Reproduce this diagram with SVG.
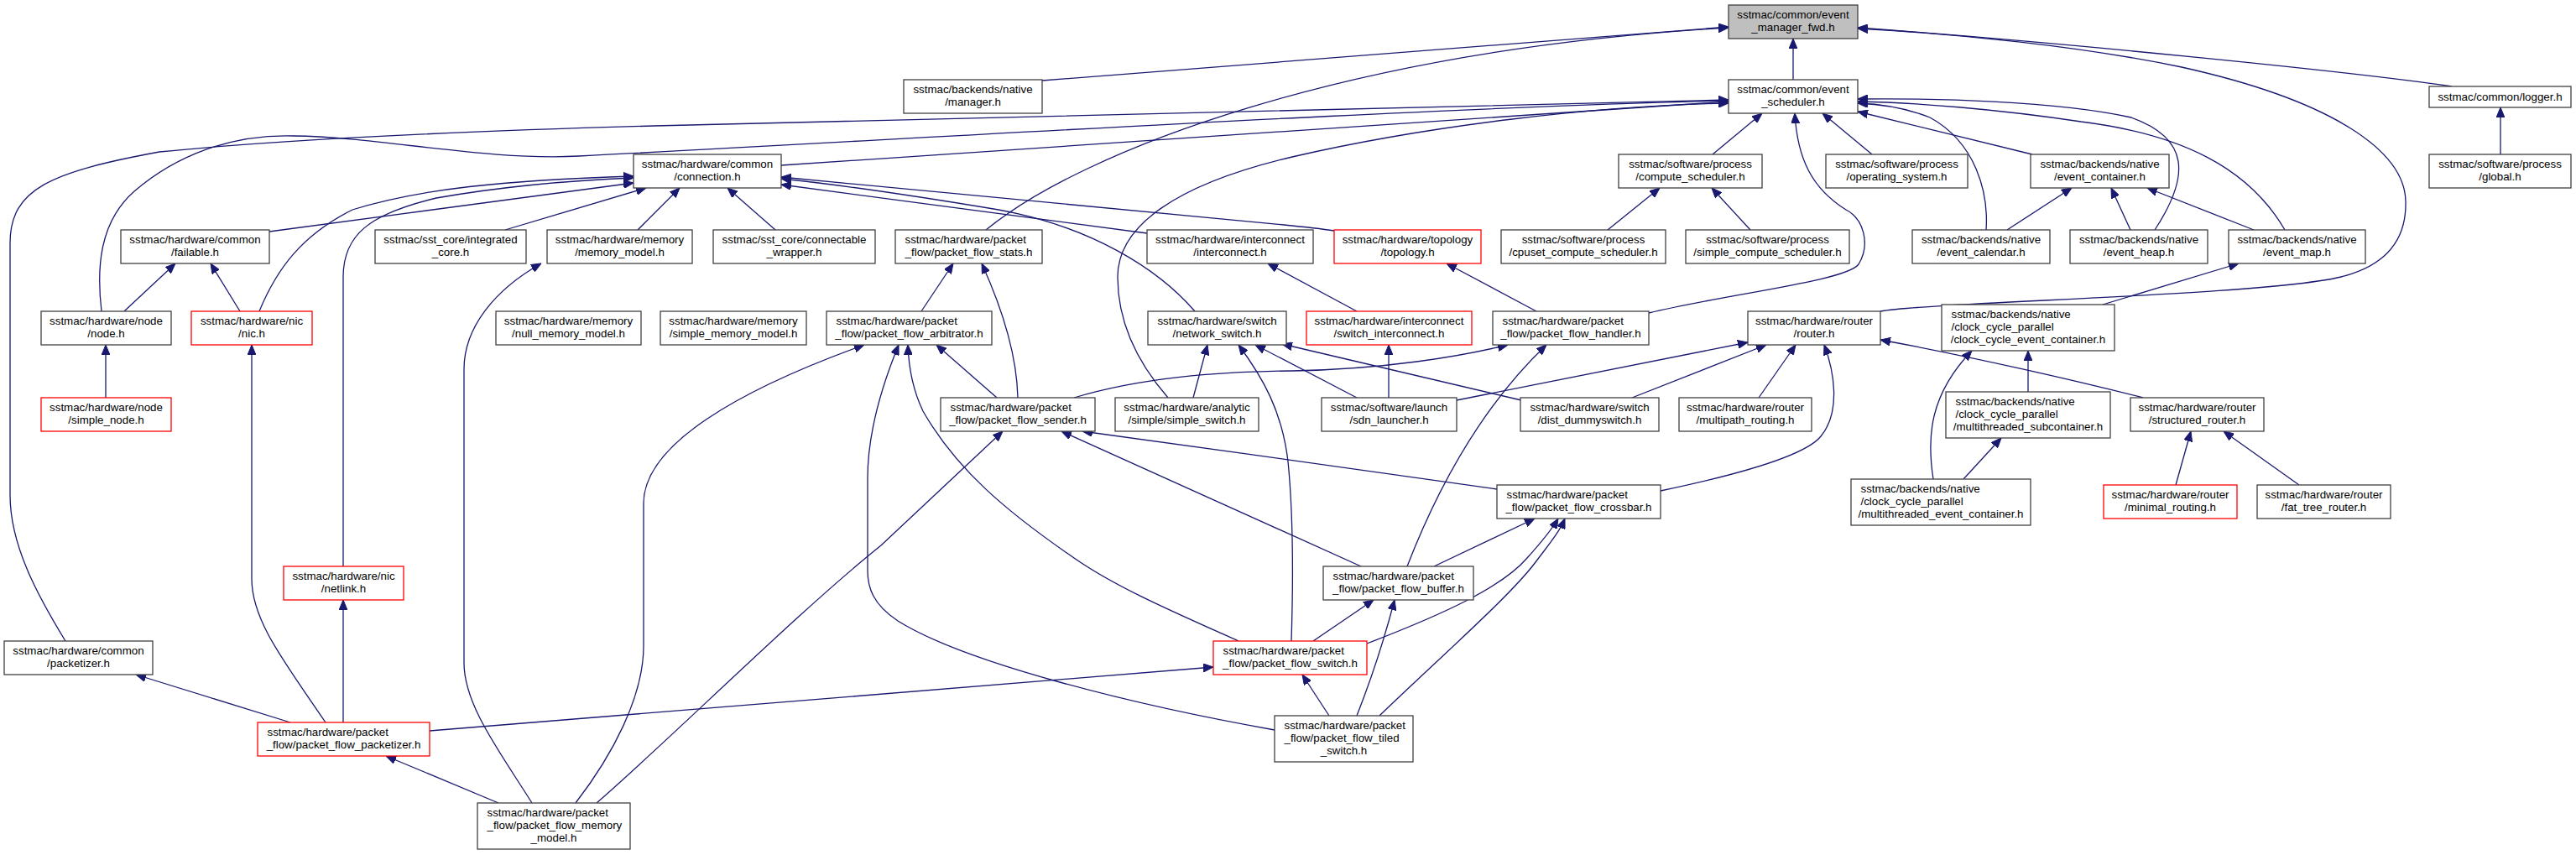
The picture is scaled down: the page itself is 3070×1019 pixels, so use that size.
<svg xmlns="http://www.w3.org/2000/svg" width="3070" height="1019" viewBox="0 0 3070 1019">
<style>
.b{fill:#fff;stroke:#404040;stroke-width:1.3}
.r{fill:#fff;stroke:#ff0000;stroke-width:1.3}
.root{fill:#bfbfbf;stroke:#404040;stroke-width:1.3}
text{font-family:"Liberation Sans",Arial,Helvetica,sans-serif;font-size:13.33px;fill:#000}
.c{text-anchor:middle}
.l{text-anchor:start}
.e{fill:none;stroke:#191970;stroke-width:1.3;marker-end:url(#a)}
</style>
<defs>
<marker id="a" viewBox="0 0 12 10" refX="12" refY="5" markerWidth="12" markerHeight="10" markerUnits="userSpaceOnUse" orient="auto">
<path d="M0,0 L12,5 L0,10 z" fill="#191970" stroke="#191970" stroke-width="1"/>
</marker>
</defs>
<rect width="3070" height="1019" fill="#fff"/>
<g id="edges">
<path class="e" d="M1242,96 L2060,32"/>
<path class="e" d="M2137,95 L2137,46"/>
<path class="e" d="M1175,274 C1290,180 1600,60 2060,33"/>
<path class="e" d="M2922,103 C2800,85 2450,50 2214,33"/>
<path class="e" d="M2241,371 C2300,360 2700,352 2790,330 C2850,315 2868,280 2867,240 C2866,180 2780,120 2600,80 C2480,55 2330,40 2214,34"/>
<path class="e" d="M2041,184 L2100,135"/>
<path class="e" d="M2231,184 L2172,135"/>
<path class="e" d="M1965,373 C2060,350 2200,335 2215,315 C2230,290 2220,260 2200,250 C2160,225 2142,190 2139,135"/>
<path class="e" d="M2422,184 L2214,133"/>
<path class="e" d="M2367,274 C2370,230 2355,170 2300,140 C2270,128 2240,124 2214,123"/>
<path class="e" d="M2568,274 C2610,210 2610,165 2540,140 C2450,120 2300,117 2214,118"/>
<path class="e" d="M2723,274 C2680,200 2600,160 2480,145 C2380,130 2280,122 2214,121"/>
<path class="e" d="M931,197 L2060,121"/>
<path class="e" d="M121,371 C115,320 118,265 160,228 C210,185 275,160 350,162 C450,163 580,192 690,186 C1100,165 1700,128 2060,120"/>
<path class="e" d="M78,764 C45,710 12,650 12,590 L12,290 C12,225 60,205 190,181 C350,165 600,155 780,150 C1300,137 1800,122 2060,119"/>
<path class="e" d="M1392,474 C1345,420 1332,370 1332,330 C1332,270 1400,220 1540,187 C1700,150 1900,126 2060,123"/>
<path class="e" d="M321,276 L755,218"/>
<path class="e" d="M602,274 L770,224"/>
<path class="e" d="M760,274 L810,224"/>
<path class="e" d="M924,274 L867,224"/>
<path class="e" d="M309,371 C330,320 360,280 420,250 C500,225 600,215 755,210"/>
<path class="e" d="M409,675 L409,330 C409,280 440,255 520,236 C600,222 680,215 755,212"/>
<path class="e" d="M1367,278 L931,220"/>
<path class="e" d="M1590,275 C1570,272 1550,270 1530,268 L931,211"/>
<path class="e" d="M1424,371 C1380,320 1300,270 1190,250 C1100,235 1000,220 931,213"/>
<path class="e" d="M148,371 L209,314"/>
<path class="e" d="M286,371 L251,314"/>
<path class="e" d="M126,474 L126,411"/>
<path class="e" d="M388,861 C340,790 300,740 300,690 L300,411"/>
<path class="e" d="M409,861 L409,715"/>
<path class="e" d="M346,861 L162,804"/>
<path class="e" d="M594,957 L460,901"/>
<path class="e" d="M512,871 L1446,795"/>
<path class="e" d="M634,957 C595,895 553,840 553,790 L553,440 C553,390 590,345 645,314"/>
<path class="e" d="M686,957 C730,900 767,830 767,770 L767,600 C767,530 880,465 1030,411"/>
<path class="e" d="M711,957 C800,880 950,730 1050,650 L1195,514"/>
<path class="e" d="M1098,371 L1136,314"/>
<path class="e" d="M1213,474 C1212,430 1200,380 1170,314"/>
<path class="e" d="M1188,474 L1116,411"/>
<path class="e" d="M1280,474 C1360,450 1450,443 1540,442 C1650,440 1740,425 1797,411"/>
<path class="e" d="M1519,870 C1350,840 1150,790 1070,740 C1040,720 1034,700 1034,680 L1034,570 C1034,510 1055,450 1071,411"/>
<path class="e" d="M1476,764 C1400,730 1330,700 1280,665 C1200,610 1140,560 1100,490 C1088,465 1083,440 1082,411"/>
<path class="e" d="M1622,675 L1265,514"/>
<path class="e" d="M1784,583 C1650,565 1450,535 1290,514"/>
<path class="e" d="M1422,474 L1439,411"/>
<path class="e" d="M1539,764 C1541,700 1542,620 1535,550 C1528,490 1505,450 1476,411"/>
<path class="e" d="M1617,474 L1496,411"/>
<path class="e" d="M1813,477 L1528,410"/>
<path class="e" d="M1655,474 L1655,411"/>
<path class="e" d="M1617,371 L1511,314"/>
<path class="e" d="M1831,371 L1724,314"/>
<path class="e" d="M1677,675 C1710,590 1760,490 1843,411"/>
<path class="e" d="M1736,477 L2083,408"/>
<path class="e" d="M1945,474 L2105,411"/>
<path class="e" d="M2096,474 L2140,411"/>
<path class="e" d="M1979,585 C2060,568 2150,545 2170,520 C2195,490 2185,440 2174,411"/>
<path class="e" d="M2554,474 C2480,455 2350,425 2241,405"/>
<path class="e" d="M2417,467 L2417,418"/>
<path class="e" d="M2304,571 C2296,520 2300,470 2350,418"/>
<path class="e" d="M2340,571 L2385,522"/>
<path class="e" d="M2506,363 L2668,314"/>
<path class="e" d="M2593,578 L2611,514"/>
<path class="e" d="M2740,578 L2650,514"/>
<path class="e" d="M2392,274 L2469,224"/>
<path class="e" d="M2539,274 L2516,224"/>
<path class="e" d="M2686,274 L2559,224"/>
<path class="e" d="M1916,274 L1978,224"/>
<path class="e" d="M2086,274 L2040,224"/>
<path class="e" d="M2980,184 L2980,128"/>
<path class="e" d="M1709,675 L1829,618"/>
<path class="e" d="M1629,767 C1720,732 1790,700 1820,665 C1838,645 1850,630 1857,618"/>
<path class="e" d="M1644,853 C1720,780 1800,710 1830,670 C1845,650 1858,635 1865,618"/>
<path class="e" d="M1565,764 L1637,715"/>
<path class="e" d="M1617,853 C1630,820 1645,780 1662,715"/>
<path class="e" d="M1584,853 L1552,804"/>
</g>
<g id="n_fwd"><rect class="root" x="2060" y="6" width="154" height="40"/><text class="c" x="2137" y="22">sstmac/common/event</text><text class="c" x="2137" y="37">_manager_fwd.h</text></g>
<g id="n_sched"><rect class="b" x="2060" y="95" width="154" height="40"/><text class="c" x="2137" y="111">sstmac/common/event</text><text class="c" x="2137" y="126">_scheduler.h</text></g>
<g id="n_manager"><rect class="b" x="1077" y="95" width="165" height="40"/><text class="c" x="1159.5" y="111">sstmac/backends/native</text><text class="c" x="1159.5" y="126">/manager.h</text></g>
<g id="n_logger"><rect class="b" x="2895" y="103" width="169" height="25"/><text class="c" x="2979.5" y="120">sstmac/common/logger.h</text></g>
<g id="n_connection"><rect class="b" x="755" y="184" width="176" height="40"/><text class="c" x="843" y="200">sstmac/hardware/common</text><text class="c" x="843" y="215">/connection.h</text></g>
<g id="n_compute"><rect class="b" x="1929" y="184" width="171" height="40"/><text class="c" x="2014.5" y="200">sstmac/software/process</text><text class="c" x="2014.5" y="215">/compute_scheduler.h</text></g>
<g id="n_os"><rect class="b" x="2176" y="184" width="169" height="40"/><text class="c" x="2260.5" y="200">sstmac/software/process</text><text class="c" x="2260.5" y="215">/operating_system.h</text></g>
<g id="n_evcont"><rect class="b" x="2420" y="184" width="165" height="40"/><text class="c" x="2502.5" y="200">sstmac/backends/native</text><text class="c" x="2502.5" y="215">/event_container.h</text></g>
<g id="n_global"><rect class="b" x="2895" y="184" width="169" height="40"/><text class="c" x="2979.5" y="200">sstmac/software/process</text><text class="c" x="2979.5" y="215">/global.h</text></g>
<g id="n_failable"><rect class="b" x="144" y="274" width="177" height="40"/><text class="c" x="232.5" y="290">sstmac/hardware/common</text><text class="c" x="232.5" y="305">/failable.h</text></g>
<g id="n_integ"><rect class="b" x="447" y="274" width="180" height="40"/><text class="c" x="537" y="290">sstmac/sst_core/integrated</text><text class="c" x="537" y="305">_core.h</text></g>
<g id="n_memmodel"><rect class="b" x="652" y="274" width="173" height="40"/><text class="c" x="738.5" y="290">sstmac/hardware/memory</text><text class="c" x="738.5" y="305">/memory_model.h</text></g>
<g id="n_connwrap"><rect class="b" x="850" y="274" width="193" height="40"/><text class="c" x="946.5" y="290">sstmac/sst_core/connectable</text><text class="c" x="946.5" y="305">_wrapper.h</text></g>
<g id="n_pfstats"><rect class="b" x="1067" y="274" width="175" height="40"/><text class="l" x="1078.5" y="290">sstmac/hardware/packet</text><text class="c" x="1154.5" y="305">_flow/packet_flow_stats.h</text></g>
<g id="n_interconnect"><rect class="b" x="1367" y="274" width="198" height="40"/><text class="c" x="1466" y="290">sstmac/hardware/interconnect</text><text class="c" x="1466" y="305">/interconnect.h</text></g>
<g id="n_topology"><rect class="r" x="1590" y="274" width="175" height="40"/><text class="c" x="1677.5" y="290">sstmac/hardware/topology</text><text class="c" x="1677.5" y="305">/topology.h</text></g>
<g id="n_cpuset"><rect class="b" x="1789" y="274" width="196" height="40"/><text class="c" x="1887" y="290">sstmac/software/process</text><text class="c" x="1887" y="305">/cpuset_compute_scheduler.h</text></g>
<g id="n_simplecomp"><rect class="b" x="2009" y="274" width="195" height="40"/><text class="c" x="2106.5" y="290">sstmac/software/process</text><text class="c" x="2106.5" y="305">/simple_compute_scheduler.h</text></g>
<g id="n_evcal"><rect class="b" x="2279" y="274" width="164" height="40"/><text class="c" x="2361" y="290">sstmac/backends/native</text><text class="c" x="2361" y="305">/event_calendar.h</text></g>
<g id="n_evheap"><rect class="b" x="2467" y="274" width="164" height="40"/><text class="c" x="2549" y="290">sstmac/backends/native</text><text class="c" x="2549" y="305">/event_heap.h</text></g>
<g id="n_evmap"><rect class="b" x="2656" y="274" width="163" height="40"/><text class="c" x="2737.5" y="290">sstmac/backends/native</text><text class="c" x="2737.5" y="305">/event_map.h</text></g>
<g id="n_node"><rect class="b" x="49" y="371" width="155" height="40"/><text class="c" x="126.5" y="387">sstmac/hardware/node</text><text class="c" x="126.5" y="402">/node.h</text></g>
<g id="n_nic"><rect class="r" x="228" y="371" width="144" height="40"/><text class="c" x="300" y="387">sstmac/hardware/nic</text><text class="c" x="300" y="402">/nic.h</text></g>
<g id="n_nullmem"><rect class="b" x="591" y="371" width="173" height="40"/><text class="c" x="677.5" y="387">sstmac/hardware/memory</text><text class="c" x="677.5" y="402">/null_memory_model.h</text></g>
<g id="n_simplemem"><rect class="b" x="787" y="371" width="174" height="40"/><text class="c" x="874" y="387">sstmac/hardware/memory</text><text class="c" x="874" y="402">/simple_memory_model.h</text></g>
<g id="n_arb"><rect class="b" x="985" y="371" width="197" height="40"/><text class="l" x="996.5" y="387">sstmac/hardware/packet</text><text class="c" x="1083.5" y="402">_flow/packet_flow_arbitrator.h</text></g>
<g id="n_netswitch"><rect class="b" x="1368" y="371" width="165" height="40"/><text class="c" x="1450.5" y="387">sstmac/hardware/switch</text><text class="c" x="1450.5" y="402">/network_switch.h</text></g>
<g id="n_swint"><rect class="r" x="1557" y="371" width="197" height="40"/><text class="c" x="1655.5" y="387">sstmac/hardware/interconnect</text><text class="c" x="1655.5" y="402">/switch_interconnect.h</text></g>
<g id="n_handler"><rect class="b" x="1779" y="371" width="186" height="40"/><text class="l" x="1790.5" y="387">sstmac/hardware/packet</text><text class="c" x="1872" y="402">_flow/packet_flow_handler.h</text></g>
<g id="n_router"><rect class="b" x="2083" y="371" width="158" height="40"/><text class="c" x="2162" y="387">sstmac/hardware/router</text><text class="c" x="2162" y="402">/router.h</text></g>
<g id="n_ccec"><rect class="b" x="2314" y="363" width="206" height="55"/><text class="l" x="2325.5" y="379">sstmac/backends/native</text><text class="l" x="2325.5" y="394">/clock_cycle_parallel</text><text class="c" x="2417" y="408.5">/clock_cycle_event_container.h</text></g>
<g id="n_simplenode"><rect class="r" x="49" y="474" width="155" height="40"/><text class="c" x="126.5" y="490">sstmac/hardware/node</text><text class="c" x="126.5" y="505">/simple_node.h</text></g>
<g id="n_sender"><rect class="b" x="1121" y="474" width="184" height="40"/><text class="l" x="1132.5" y="490">sstmac/hardware/packet</text><text class="c" x="1213" y="505">_flow/packet_flow_sender.h</text></g>
<g id="n_simpleswitch"><rect class="b" x="1329" y="474" width="171" height="40"/><text class="c" x="1414.5" y="490">sstmac/hardware/analytic</text><text class="c" x="1414.5" y="505">/simple/simple_switch.h</text></g>
<g id="n_sdn"><rect class="b" x="1575" y="474" width="161" height="40"/><text class="c" x="1655.5" y="490">sstmac/software/launch</text><text class="c" x="1655.5" y="505">/sdn_launcher.h</text></g>
<g id="n_dist"><rect class="b" x="1812" y="474" width="165" height="40"/><text class="c" x="1894.5" y="490">sstmac/hardware/switch</text><text class="c" x="1894.5" y="505">/dist_dummyswitch.h</text></g>
<g id="n_multipath"><rect class="b" x="2001" y="474" width="158" height="40"/><text class="c" x="2080" y="490">sstmac/hardware/router</text><text class="c" x="2080" y="505">/multipath_routing.h</text></g>
<g id="n_mtsub"><rect class="b" x="2319" y="467" width="196" height="55"/><text class="l" x="2330.5" y="483">sstmac/backends/native</text><text class="l" x="2330.5" y="498">/clock_cycle_parallel</text><text class="c" x="2417" y="512.5">/multithreaded_subcontainer.h</text></g>
<g id="n_structured"><rect class="b" x="2539" y="474" width="159" height="40"/><text class="c" x="2618.5" y="490">sstmac/hardware/router</text><text class="c" x="2618.5" y="505">/structured_router.h</text></g>
<g id="n_crossbar"><rect class="b" x="1784" y="578" width="195" height="40"/><text class="l" x="1795.5" y="594">sstmac/hardware/packet</text><text class="c" x="1881.5" y="609">_flow/packet_flow_crossbar.h</text></g>
<g id="n_mtec"><rect class="b" x="2206" y="571" width="214" height="55"/><text class="l" x="2217.5" y="587">sstmac/backends/native</text><text class="l" x="2217.5" y="602">/clock_cycle_parallel</text><text class="c" x="2313" y="616.5">/multithreaded_event_container.h</text></g>
<g id="n_minimal"><rect class="r" x="2507" y="578" width="159" height="40"/><text class="c" x="2586.5" y="594">sstmac/hardware/router</text><text class="c" x="2586.5" y="609">/minimal_routing.h</text></g>
<g id="n_fattree"><rect class="b" x="2690" y="578" width="159" height="40"/><text class="c" x="2769.5" y="594">sstmac/hardware/router</text><text class="c" x="2769.5" y="609">/fat_tree_router.h</text></g>
<g id="n_netlink"><rect class="r" x="338" y="675" width="143" height="40"/><text class="c" x="409.5" y="691">sstmac/hardware/nic</text><text class="c" x="409.5" y="706">/netlink.h</text></g>
<g id="n_buffer"><rect class="b" x="1577" y="675" width="179" height="40"/><text class="l" x="1588.5" y="691">sstmac/hardware/packet</text><text class="c" x="1666.5" y="706">_flow/packet_flow_buffer.h</text></g>
<g id="n_packetizer"><rect class="b" x="5" y="764" width="177" height="40"/><text class="c" x="93.5" y="780">sstmac/hardware/common</text><text class="c" x="93.5" y="795">/packetizer.h</text></g>
<g id="n_pfswitch"><rect class="r" x="1446" y="764" width="183" height="40"/><text class="l" x="1457.5" y="780">sstmac/hardware/packet</text><text class="c" x="1537.5" y="795">_flow/packet_flow_switch.h</text></g>
<g id="n_pfpacketizer"><rect class="r" x="307" y="861" width="205" height="40"/><text class="l" x="318.5" y="877">sstmac/hardware/packet</text><text class="c" x="409.5" y="892">_flow/packet_flow_packetizer.h</text></g>
<g id="n_tiled"><rect class="b" x="1519" y="853" width="165" height="55"/><text class="l" x="1530.5" y="869">sstmac/hardware/packet</text><text class="l" x="1530.5" y="884">_flow/packet_flow_tiled</text><text class="c" x="1601.5" y="898.5">_switch.h</text></g>
<g id="n_pfmem"><rect class="b" x="569" y="957" width="182" height="55"/><text class="l" x="580.5" y="973">sstmac/hardware/packet</text><text class="l" x="580.5" y="988">_flow/packet_flow_memory</text><text class="c" x="660" y="1002.5">_model.h</text></g>
</svg>
